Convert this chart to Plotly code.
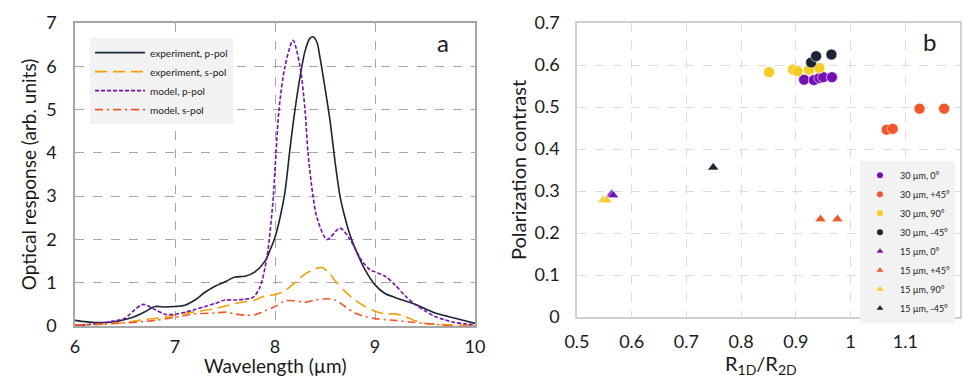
import plotly.graph_objects as go

# ---- panel a: optical response spectra ----
wl_exp_p = [6.0, 6.2, 6.4, 6.5, 6.6, 6.7, 6.8, 6.9, 7.0, 7.1, 7.2, 7.3, 7.4, 7.5, 7.6, 7.7, 7.8, 7.9,
            7.95, 8.0, 8.05, 8.1, 8.15, 8.2, 8.25, 8.3, 8.35, 8.38, 8.42, 8.45, 8.5, 8.55, 8.6, 8.65,
            8.7, 8.75, 8.8, 8.9, 9.0, 9.1, 9.2, 9.3, 9.4, 9.5, 9.6, 9.7, 9.8, 9.9, 10.0]
exp_p = [0.13, 0.08, 0.1, 0.15, 0.22, 0.33, 0.45, 0.44, 0.45, 0.48, 0.6, 0.78, 0.92, 1.02, 1.13, 1.15,
         1.25, 1.5, 1.75, 2.05, 2.5, 3.1, 4.1, 5.0, 5.75, 6.35, 6.65, 6.68, 6.55, 6.2, 5.5, 4.75, 3.8,
         3.0, 2.5, 2.1, 1.8, 1.3, 0.95, 0.75, 0.66, 0.58, 0.5, 0.4, 0.3, 0.24, 0.18, 0.12, 0.06]

wl_exp_s = [6.0, 6.3, 6.5, 6.7, 6.9, 7.0, 7.2, 7.4, 7.6, 7.8, 7.9, 8.0, 8.1, 8.2, 8.3, 8.4, 8.47,
            8.55, 8.6, 8.7, 8.8, 8.9, 9.0, 9.1, 9.2, 9.3, 9.4, 9.5, 9.6, 9.8, 10.0]
exp_s = [0.02, 0.05, 0.08, 0.15, 0.2, 0.25, 0.33, 0.4, 0.52, 0.6, 0.7, 0.72, 0.82, 1.0, 1.2, 1.32, 1.35,
         1.2, 1.05, 0.8, 0.6, 0.45, 0.34, 0.28, 0.28, 0.22, 0.12, 0.06, 0.04, 0.02, 0.02]

wl_mod_p = [6.0, 6.2, 6.4, 6.5, 6.6, 6.68, 6.8, 6.9, 7.0, 7.1, 7.2, 7.3, 7.4, 7.5, 7.6, 7.7, 7.78,
            7.85, 7.92, 7.98, 8.01, 8.04, 8.1, 8.18, 8.25, 8.3, 8.33, 8.38, 8.42, 8.52, 8.65, 8.75,
            8.87, 8.95, 9.0, 9.1, 9.2, 9.3, 9.4, 9.5, 9.6, 9.7, 9.8, 9.9, 10.0]
mod_p = [0.0, 0.05, 0.12, 0.18, 0.38, 0.5, 0.38, 0.27, 0.27, 0.32, 0.38, 0.45, 0.52, 0.6, 0.6, 0.62,
         0.66, 0.9, 1.6, 2.9, 4.0, 5.0, 6.0, 6.6, 6.0, 5.0, 4.0, 3.0, 2.5, 2.0, 2.26, 2.0, 1.5, 1.3,
         1.25, 1.15, 0.95, 0.7, 0.5, 0.35, 0.22, 0.14, 0.08, 0.05, 0.02]

wl_mod_s = [6.0, 6.5, 6.8, 7.0, 7.2, 7.4, 7.5, 7.6, 7.7, 7.8, 7.9, 8.0, 8.1, 8.2, 8.3, 8.4, 8.53,
            8.6, 8.7, 8.8, 8.9, 9.0, 9.2, 9.4, 9.6, 9.8, 10.0]
mod_s = [0.02, 0.07, 0.13, 0.2, 0.28, 0.3, 0.32, 0.28, 0.25, 0.26, 0.35, 0.45, 0.58, 0.58, 0.55, 0.6,
         0.63, 0.6, 0.45, 0.3, 0.22, 0.17, 0.13, 0.08, 0.04, -0.01, 0.0]

# ---- panel b: polarization contrast vs R1D/R2D ----
c30_0_x = [0.915, 0.933, 0.943, 0.950, 0.966]
c30_0_y = [0.565, 0.564, 0.569, 0.571, 0.571]
c30_p45_x = [1.066, 1.077, 1.126, 1.171]
c30_p45_y = [0.446, 0.448, 0.496, 0.496]
c30_90_x = [0.851, 0.895, 0.903, 0.924, 0.943]
c30_90_y = [0.583, 0.589, 0.585, 0.589, 0.593]
c30_m45_x = [0.928, 0.937, 0.965]
c30_m45_y = [0.606, 0.621, 0.625]
t15_0_x = [0.563, 0.566]
t15_0_y = [0.292, 0.290]
t15_p45_x = [0.945, 0.976]
t15_p45_y = [0.233, 0.233]
t15_90_x = [0.548, 0.554]
t15_90_y = [0.278, 0.278]
t15_m45_x = [0.749]
t15_m45_y = [0.356]

NAVY = '#1b2536'
ORANGE = '#f5a000'
PURPLE = '#7510b5'
RED = '#f4562a'
YELLOW = '#f6cc1f'
FONT = 'Lato'

fig = go.Figure()

line_series = [
    (wl_exp_p, exp_p, 'experiment, p-pol', NAVY, 'solid'),
    (wl_exp_s, exp_s, 'experiment, s-pol', ORANGE, '12px,6px'),
    (wl_mod_p, mod_p, 'model, p-pol', PURPLE, '4px,2px'),
    (wl_mod_s, mod_s, 'model, s-pol', RED, '8px,4px,2px,4px'),
]
for x, y, name, col, dash in line_series:
    fig.add_trace(go.Scatter(x=x, y=y, name=name, mode='lines',
                             line=dict(color=col, width=1.6, dash=dash, shape='spline', smoothing=0.8),
                             xaxis='x', yaxis='y', legend='legend'))

pt_series = [
    (c30_0_x, c30_0_y, '30 µm, 0°', PURPLE, 'circle'),
    (c30_p45_x, c30_p45_y, '30 µm, +45°', RED, 'circle'),
    (c30_90_x, c30_90_y, '30 µm, 90°', YELLOW, 'circle'),
    (c30_m45_x, c30_m45_y, '30 µm, -45°', NAVY, 'circle'),
    (t15_0_x, t15_0_y, '15 µm, 0°', PURPLE, 'triangle-up'),
    (t15_p45_x, t15_p45_y, '15 µm, +45°', RED, 'triangle-up'),
    (t15_90_x, t15_90_y, '15 µm, 90°', YELLOW, 'triangle-up'),
    (t15_m45_x, t15_m45_y, '15 µm, -45°', NAVY, 'triangle-up'),
]
for x, y, name, col, sym in pt_series:
    size = 11 if sym == 'circle' else 10
    fig.add_trace(go.Scatter(x=x, y=y, name=name, mode='markers', showlegend=False,
                             marker=dict(color=col, symbol=sym, size=size,
                                         line=dict(color='white', width=0.6)),
                             xaxis='x2', yaxis='y2'))
    # small legend glyphs
    fig.add_trace(go.Scatter(x=[None], y=[None], name=name, mode='markers',
                             marker=dict(color=col, symbol=sym, size=6),
                             xaxis='x2', yaxis='y2', legend='legend2'))

ax_a = dict(showline=True, mirror=True, linecolor='#a6a6a6', linewidth=1.5, automargin=False,
            showgrid=True, gridcolor='#a6a6a6', griddash='dash', gridwidth=1,
            zeroline=False, ticks='', tickfont=dict(size=18, color='#1a1a1a'))
ax_b = dict(showline=True, mirror=True, linecolor='#d0d0d0', linewidth=1.5, automargin=False,
            showgrid=True, gridcolor='#dcdcdc', griddash='dash', gridwidth=1,
            zeroline=False, ticks='', tickfont=dict(size=18, color='#1a1a1a'))

# the page body adds 8px, so the figure is 964x371; plot area spans 885x303 px
fig.update_layout(
    width=964, height=371,
    margin=dict(l=67, r=12, t=15, b=53),
    paper_bgcolor='white', plot_bgcolor='white',
    font=dict(family=FONT, color='#1a1a1a'),
    xaxis=dict(ax_a, domain=[0, 0.452], range=[6, 10], dtick=1, anchor='y', ticklabelstandoff=4),
    yaxis=dict(ax_a, domain=[0, 1], range=[0, 7], dtick=1, anchor='x', ticklabelstandoff=13,
               title=dict(text='Optical response (arb. units)', font=dict(size=19), standoff=5)),
    xaxis2=dict(ax_b, domain=[0.5672, 1], range=[0.5, 1.2], dtick=0.1, anchor='y2',
                ticklabelstandoff=8),
    yaxis2=dict(ax_b, domain=[0.0297, 1], range=[0, 0.7], dtick=0.1, anchor='x2',
                ticklabelstandoff=12,
                title=dict(text='Polarization contrast', font=dict(size=20), standoff=2)),
    legend=dict(x=0.017, y=0.95, xanchor='left', yanchor='top', bgcolor='#f2f2f2',
                font=dict(size=10, family=FONT), itemwidth=50, tracegroupgap=0,
                borderwidth=0),
    legend2=dict(x=0.887, y=0.545, xanchor='left', yanchor='top', bgcolor='#f2f2f2',
                 font=dict(size=9, family=FONT), itemwidth=30, borderwidth=0),
    annotations=[
        dict(text='Wavelength (µm)', x=0.226, y=-0.132, xref='paper', yref='paper',
             xanchor='center', yanchor='middle', showarrow=False, font=dict(size=19)),
        dict(text='R<sub>1D</sub>/R<sub>2D</sub>', x=0.7748, y=-0.1287, xref='paper', yref='paper',
             xanchor='center', yanchor='middle', showarrow=False, font=dict(size=20)),
        dict(text='a', x=0.4158, y=0.934, xref='paper', yref='paper',
             xanchor='center', yanchor='middle', showarrow=False, font=dict(size=24)),
        dict(text='b', x=0.9661, y=0.94, xref='paper', yref='paper',
             xanchor='center', yanchor='middle', showarrow=False, font=dict(size=24)),
    ],
)

fig.write_html("out.html")
